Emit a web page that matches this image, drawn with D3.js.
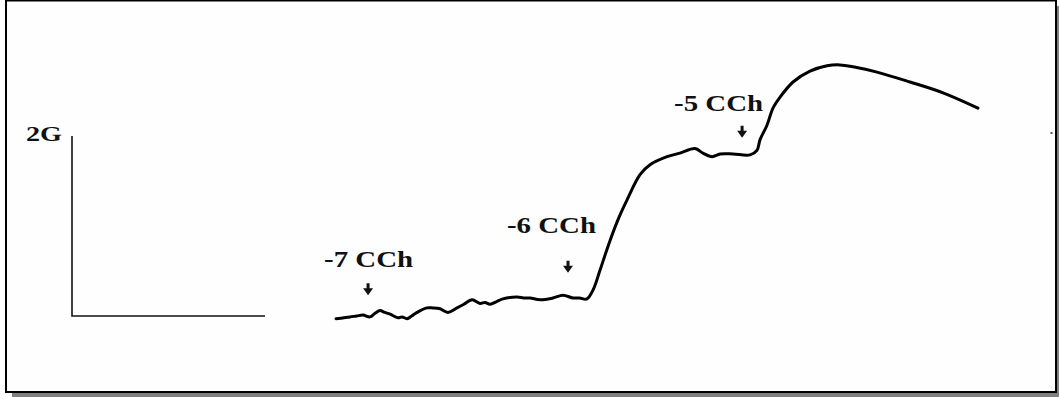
<!DOCTYPE html>
<html>
<head>
<meta charset="utf-8">
<script src="https://cdn.jsdelivr.net/npm/d3@7"></script>
<style>
  html, body { margin: 0; padding: 0; background: #ffffff; }
  svg { display: block; }
</style>
</head>
<body>
<svg id="chart" width="1059" height="399"></svg>
<script>
// Isometric contraction trace: time (min) vs tension (g)
const timeMin = [13.68, 14.10, 14.40, 14.75, 15.08, 15.44, 15.70, 15.96, 16.20, 16.48, 16.89, 17.10, 17.36, 17.60, 17.88, 18.39,
  18.70, 19.07, 19.48, 19.95, 20.30, 20.73, 21.14, 21.40, 21.66, 22.00, 22.33, 23.06, 23.40, 23.73, 24.25,
  24.92, 25.44, 25.96, 26.30, 26.68, 27.00, 27.36, 27.88, 28.39, 28.76, 29.43,
  29.95, 30.83, 31.50, 32.28, 32.69, 33.16, 33.58, 34.25, 35.13, 35.49,
  35.65, 36.01, 36.32, 36.68, 37.36, 38.24, 39.12, 39.79, 40.47, 41.71,
  43.42, 45.13, 46.94];
const tensionG = [-0.03, -0.02, -0.01, 0.00, 0.01, -0.01, 0.03, 0.06, 0.04, 0.02, -0.02, -0.01, -0.03, 0.00, 0.04, 0.09,
  0.09, 0.08, 0.04, 0.09, 0.13, 0.18, 0.14, 0.15, 0.13, 0.16, 0.19, 0.21, 0.20, 0.20, 0.18,
  0.20, 0.23, 0.20, 0.20, 0.19, 0.29, 0.51, 0.84, 1.12, 1.29, 1.57,
  1.68, 1.77, 1.81, 1.86, 1.81, 1.77, 1.80, 1.80, 1.79, 1.84,
  1.96, 2.12, 2.31, 2.43, 2.60, 2.72, 2.78, 2.79, 2.77, 2.71,
  2.60, 2.48, 2.31];

// Carbachol additions (log molar dose)
const doseLabels = ["-7 CCh", "-6 CCh", "-5 CCh"];
const doseTime = [15.34, 25.70, 34.72];
const doseArrowTip = [0.23, 0.48, 1.98];

// Calibration bars
const scaleBarTension = 2;   // g
const scaleBarTime = 10;     // min
const scaleBarLabel = "2G";

const W = 1059, H = 399;
const svg = d3.select("#chart");

const x = d3.scaleLinear().domain([0, 10]).range([72, 265]);
const y = d3.scaleLinear().domain([0, 2]).range([316, 136]);

// label placement relative to each arrow tip
const labelLayout = [{dx: -44, dy: -28}, {dx: -61, dy: -40}, {dx: -68, dy: -27}];

// frame with drop shadow
svg.append("rect").attr("x", 12).attr("y", 393).attr("width", W - 12).attr("height", 4).attr("fill", "#808080");
svg.append("rect").attr("x", 1057).attr("y", 6).attr("width", 2).attr("height", 391).attr("fill", "#808080");
svg.append("rect").attr("x", 6).attr("y", 0.5).attr("width", 1050).attr("height", 391.5)
  .attr("fill", "#fefefe").attr("stroke", "#000").attr("stroke-width", 2);

// calibration bars
const bar = d3.path();
bar.moveTo(x(0), y(scaleBarTension));
bar.lineTo(x(0), y(0));
bar.lineTo(x(scaleBarTime), y(0));
svg.append("path").attr("d", bar.toString()).attr("fill", "none")
  .attr("stroke", "#111").attr("stroke-width", 1.6);

svg.append("text").attr("x", 26).attr("y", 141)
  .attr("font-family", "Liberation Serif, Times New Roman, serif")
  .attr("font-weight", "bold").attr("font-size", 20)
  .attr("textLength", 36).attr("lengthAdjust", "spacingAndGlyphs")
  .attr("fill", "#111").text(scaleBarLabel);

// trace
const pts = timeMin.map((t, i) => [t, tensionG[i]]);
const traceLine = d3.line().x(d => x(d[0])).y(d => y(d[1])).curve(d3.curveCatmullRom.alpha(0.5));
svg.append("path").datum(pts).attr("d", traceLine).attr("fill", "none")
  .attr("stroke", "#000").attr("stroke-width", 3).attr("stroke-linejoin", "round").attr("stroke-linecap", "round");

// dose arrows and labels
doseLabels.forEach((lab, i) => {
  const cx = x(doseTime[i]), ty = y(doseArrowTip[i]);
  const a = d3.path();
  a.moveTo(cx - 1.5, ty - 12);
  a.lineTo(cx + 1.5, ty - 12);
  a.lineTo(cx + 1.5, ty - 7);
  a.lineTo(cx + 5, ty - 7);
  a.lineTo(cx, ty);
  a.lineTo(cx - 5, ty - 7);
  a.lineTo(cx - 1.5, ty - 7);
  a.closePath();
  svg.append("path").attr("d", a.toString()).attr("fill", "#111");

  svg.append("text").attr("x", cx + labelLayout[i].dx).attr("y", ty + labelLayout[i].dy)
    .attr("font-family", "Liberation Serif, Times New Roman, serif")
    .attr("font-weight", "bold").attr("font-size", 23)
    .attr("textLength", 89).attr("lengthAdjust", "spacingAndGlyphs")
    .attr("fill", "#111").text(lab);
});

// small stray mark near right edge
svg.append("rect").attr("x", x(50.7)).attr("y", 132).attr("width", 2).attr("height", 2).attr("fill", "#555");
</script>
</body>
</html>
